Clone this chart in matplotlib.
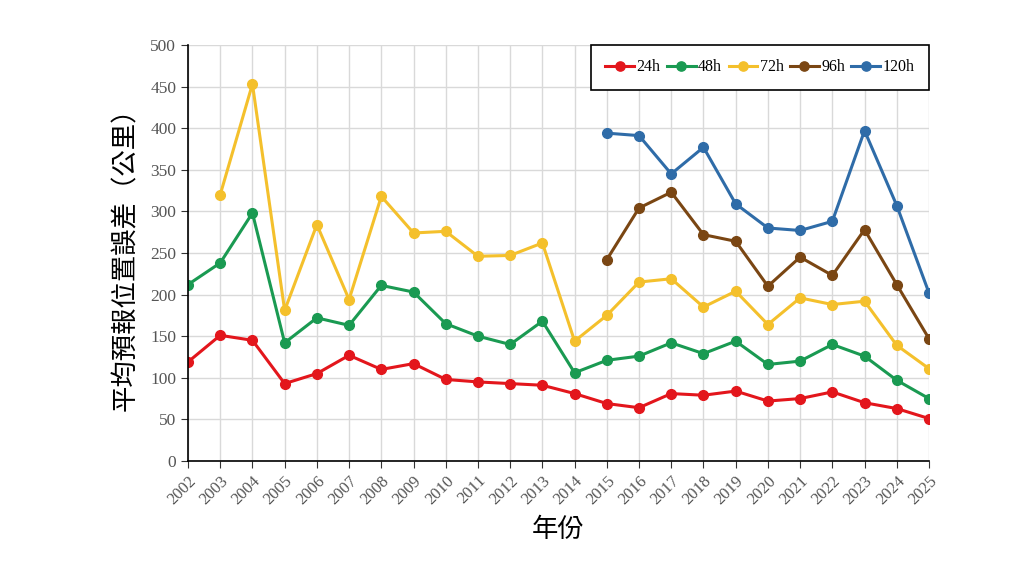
import numpy as np
import matplotlib
matplotlib.use("Agg")
import matplotlib.pyplot as plt

years = list(range(2002, 2026))
nan = np.nan

err_24h = [119, 151, 145, 93, 105, 127, 110, 117, 98, 95, 93, 91, 81,
           69, 64, 81, 79, 84, 72, 75, 83, 70, 63, 51]
err_48h = [212, 238, 298, 142, 172, 163, 211, 203, 165, 150, 140, 168, 106,
           121, 126, 142, 129, 144, 116, 120, 140, 126, 97, 75]
err_72h = [nan, 320, 453, 181, 284, 194, 318, 274, 276, 246, 247, 262, 144,
           175, 215, 219, 185, 204, 164, 196, 188, 192, 139, 111]
err_96h = [nan] * 13 + [242, 304, 323, 272, 264, 210, 245, 223, 278, 212, 147]
err_120h = [nan] * 13 + [394, 391, 345, 377, 309, 280, 277, 288, 397, 307, 202]

series = [
    ("24h", err_24h, "#e3161c"),
    ("48h", err_48h, "#1a9a52"),
    ("72h", err_72h, "#f4c02c"),
    ("96h", err_96h, "#7a4613"),
    ("120h", err_120h, "#2f6ca8"),
]

serif = "Liberation Serif"
cjk = ["Noto Sans CJK TC", "DejaVu Sans"]

fig = plt.figure(figsize=(10.24, 5.76), dpi=100)
ax = fig.add_axes([0.1836, 0.1997, 0.7236, 0.7223])

for name, vals, col in series:
    ax.plot(years, vals, color=col, lw=2.2, marker="o", ms=7, label=name)

ax.set_xlim(2002, 2025)
ax.set_ylim(0, 500)
ax.set_xticks(years)
ax.set_yticks(range(0, 501, 50))
ax.grid(True, color="#d9d9d9", lw=1)
ax.set_axisbelow(True)
for s in ("top", "right"):
    ax.spines[s].set_visible(False)
ax.spines["left"].set_linewidth(1.2)
ax.spines["bottom"].set_linewidth(1.2)
ax.tick_params(direction="out", length=5, colors="#333333", labelcolor="#555555")

for lbl in ax.get_xticklabels():
    lbl.set_fontfamily(serif)
    lbl.set_fontsize(12)
    lbl.set_rotation(45)
    lbl.set_ha("right")
    lbl.set_rotation_mode("anchor")
for lbl in ax.get_yticklabels():
    lbl.set_fontfamily(serif)
    lbl.set_fontsize(12.5)

ax.set_xlabel("年份", family=cjk, fontsize=19, labelpad=6)
ax.set_ylabel("平均預報位置誤差（公里）", family=cjk, fontsize=19, labelpad=8)

leg = ax.legend(loc="upper right", ncol=5, frameon=True, fancybox=False,
                borderaxespad=0, handlelength=1.8, handletextpad=0.15,
                columnspacing=0.4, borderpad=0.9, markerscale=0.95,
                prop={"family": serif, "size": 11.5})
leg.get_frame().set_edgecolor("black")
leg.get_frame().set_linewidth(1.2)
leg.get_frame().set_alpha(1)

fig.savefig("out.png", dpi=100)
